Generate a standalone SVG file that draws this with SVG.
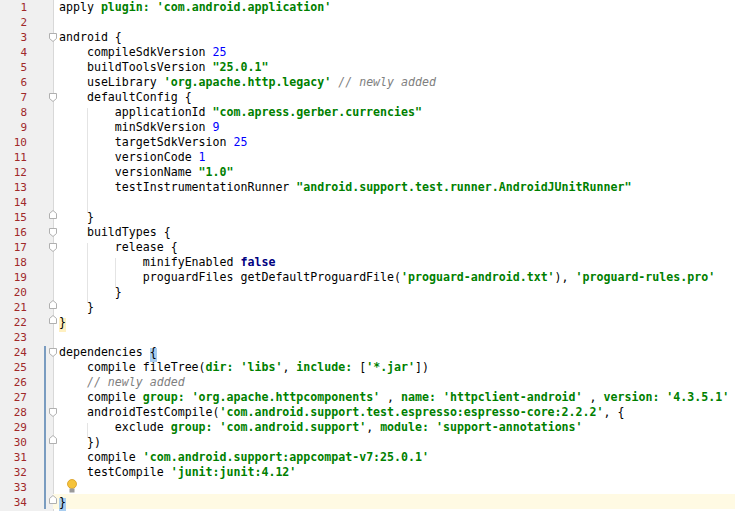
<svg xmlns="http://www.w3.org/2000/svg" width="735" height="511" viewBox="0 0 735 511">
<style>
.c{font-family:"DejaVu Sans Mono","Liberation Mono",monospace;font-size:11.6px;fill:#000;white-space:pre}
.ln{font-family:"DejaVu Sans Mono","Liberation Mono",monospace;font-size:11px;fill:#a0282a;text-anchor:end}
.k{fill:#008000;font-weight:bold}
.n{fill:#0000ff}
.m{fill:#808080;font-style:italic}
.b{fill:#000080;font-weight:bold}
.fold{fill:#fff;stroke:#b0b0b0;stroke-width:1}
</style>
<rect width="735" height="511" fill="#fff"/>
<g id="gutter">
<rect x="0" y="0" width="53" height="511" fill="#f0f0f0"/>
<line x1="53.5" y1="0" x2="53.5" y2="511" stroke="#d8d8d8"/>
<rect x="53" y="494" width="682" height="15" fill="#fffae3"/>
<line x1="45" y1="346" x2="45" y2="509" stroke="#7a9cc0" stroke-width="2"/>
<g>
<text class="ln" x="27" y="11">1</text><text class="ln" x="27" y="26">2</text><text class="ln" x="27" y="41">3</text><text class="ln" x="27" y="56">4</text><text class="ln" x="27" y="71">5</text><text class="ln" x="27" y="86">6</text><text class="ln" x="27" y="101">7</text><text class="ln" x="27" y="116">8</text><text class="ln" x="27" y="131">9</text><text class="ln" x="27" y="146">10</text><text class="ln" x="27" y="161">11</text><text class="ln" x="27" y="176">12</text><text class="ln" x="27" y="191">13</text><text class="ln" x="27" y="206">14</text><text class="ln" x="27" y="221">15</text><text class="ln" x="27" y="236">16</text><text class="ln" x="27" y="251">17</text><text class="ln" x="27" y="266">18</text><text class="ln" x="27" y="281">19</text><text class="ln" x="27" y="296">20</text><text class="ln" x="27" y="311">21</text><text class="ln" x="27" y="326">22</text><text class="ln" x="27" y="341">23</text><text class="ln" x="27" y="356">24</text><text class="ln" x="27" y="371">25</text><text class="ln" x="27" y="386">26</text><text class="ln" x="27" y="401">27</text><text class="ln" x="27" y="416">28</text><text class="ln" x="27" y="431">29</text><text class="ln" x="27" y="446">30</text><text class="ln" x="27" y="461">31</text><text class="ln" x="27" y="476">32</text><text class="ln" x="27" y="491">33</text><text class="ln" x="27" y="506">34</text>
</g>
<g id="folds">
<path class="fold" d="M49.5,33.5h7v5l-3.5,3l-3.5,-3z"/>
<path class="fold" d="M49.5,93.5h7v5l-3.5,3l-3.5,-3z"/>
<path class="fold" d="M49.5,213.5l3.5,-3l3.5,3v5h-7z"/>
<path class="fold" d="M49.5,228.5h7v5l-3.5,3l-3.5,-3z"/>
<path class="fold" d="M49.5,243.5h7v5l-3.5,3l-3.5,-3z"/>
<path class="fold" d="M49.5,303.5l3.5,-3l3.5,3v5h-7z"/>
<path class="fold" d="M49.5,318.5l3.5,-3l3.5,3v5h-7z"/>
<path class="fold" d="M49.5,348.5h7v5l-3.5,3l-3.5,-3z"/>
<path class="fold" d="M49.5,408.5h7v5l-3.5,3l-3.5,-3z"/>
<path class="fold" d="M49.5,438.5l3.5,-3l3.5,3v5h-7z"/>
<path class="fold" d="M49.5,498.5l3.5,-3l3.5,3v5h-7z"/>
</g>
</g>
<g id="guides" stroke="#e4e4e4">
<line x1="87.5" y1="108" x2="87.5" y2="213"/>
<line x1="87.5" y1="243" x2="87.5" y2="303"/>
<line x1="115.5" y1="258" x2="115.5" y2="288"/>
<line x1="87.5" y1="423" x2="87.5" y2="438"/>
</g>
<g id="highlights">
<rect x="59" y="318" width="7" height="14" fill="#fff0c0"/>
<rect x="150" y="348" width="7" height="14" fill="#a8cdf0"/>
<rect x="59" y="498" width="7" height="14" fill="#a8cdf0"/>
</g>
<g id="bulb">
<circle cx="72" cy="484" r="4.5" fill="#f5c33b" stroke="#d79a1c" stroke-width="0.8"/>
<rect x="69.5" y="488.5" width="5" height="4" fill="#9a9a9a"/>
</g>
<g id="code" xml:space="preserve">
<text class="c" x="59" y="11">apply <tspan class="k">plugin:</tspan> <tspan class="k">'com.android.application'</tspan></text>
<text class="c" x="59" y="41">android {</text>
<text class="c" x="59" y="56">    compileSdkVersion <tspan class="n">25</tspan></text>
<text class="c" x="59" y="71">    buildToolsVersion <tspan class="k">"25.0.1"</tspan></text>
<text class="c" x="59" y="86">    useLibrary <tspan class="k">'org.apache.http.legacy'</tspan> <tspan class="m">// newly added</tspan></text>
<text class="c" x="59" y="101">    defaultConfig {</text>
<text class="c" x="59" y="116">        applicationId <tspan class="k">"com.apress.gerber.currencies"</tspan></text>
<text class="c" x="59" y="131">        minSdkVersion <tspan class="n">9</tspan></text>
<text class="c" x="59" y="146">        targetSdkVersion <tspan class="n">25</tspan></text>
<text class="c" x="59" y="161">        versionCode <tspan class="n">1</tspan></text>
<text class="c" x="59" y="176">        versionName <tspan class="k">"1.0"</tspan></text>
<text class="c" x="59" y="191">        testInstrumentationRunner <tspan class="k">"android.support.test.runner.AndroidJUnitRunner"</tspan></text>
<text class="c" x="59" y="221">    }</text>
<text class="c" x="59" y="236">    buildTypes {</text>
<text class="c" x="59" y="251">        release {</text>
<text class="c" x="59" y="266">            minifyEnabled <tspan class="b">false</tspan></text>
<text class="c" x="59" y="281">            proguardFiles getDefaultProguardFile(<tspan class="k">'proguard-android.txt'</tspan>), <tspan class="k">'proguard-rules.pro'</tspan></text>
<text class="c" x="59" y="296">        }</text>
<text class="c" x="59" y="311">    }</text>
<text class="c" x="59" y="326">}</text>
<text class="c" x="59" y="356">dependencies {</text>
<text class="c" x="59" y="371">    compile fileTree(<tspan class="k">dir:</tspan> <tspan class="k">'libs'</tspan>, <tspan class="k">include:</tspan> [<tspan class="k">'*.jar'</tspan>])</text>
<text class="c" x="59" y="386">    <tspan class="m">// newly added</tspan></text>
<text class="c" x="59" y="401">    compile <tspan class="k">group:</tspan> <tspan class="k">'org.apache.httpcomponents'</tspan> , <tspan class="k">name:</tspan> <tspan class="k">'httpclient-android'</tspan> , <tspan class="k">version:</tspan> <tspan class="k">'4.3.5.1'</tspan></text>
<text class="c" x="59" y="416">    androidTestCompile(<tspan class="k">'com.android.support.test.espresso:espresso-core:2.2.2'</tspan>, {</text>
<text class="c" x="59" y="431">        exclude <tspan class="k">group:</tspan> <tspan class="k">'com.android.support'</tspan>, <tspan class="k">module:</tspan> <tspan class="k">'support-annotations'</tspan></text>
<text class="c" x="59" y="446">    })</text>
<text class="c" x="59" y="461">    compile <tspan class="k">'com.android.support:appcompat-v7:25.0.1'</tspan></text>
<text class="c" x="59" y="476">    testCompile <tspan class="k">'junit:junit:4.12'</tspan></text>
<text class="c" x="59" y="506">}</text>
</g>
</svg>
